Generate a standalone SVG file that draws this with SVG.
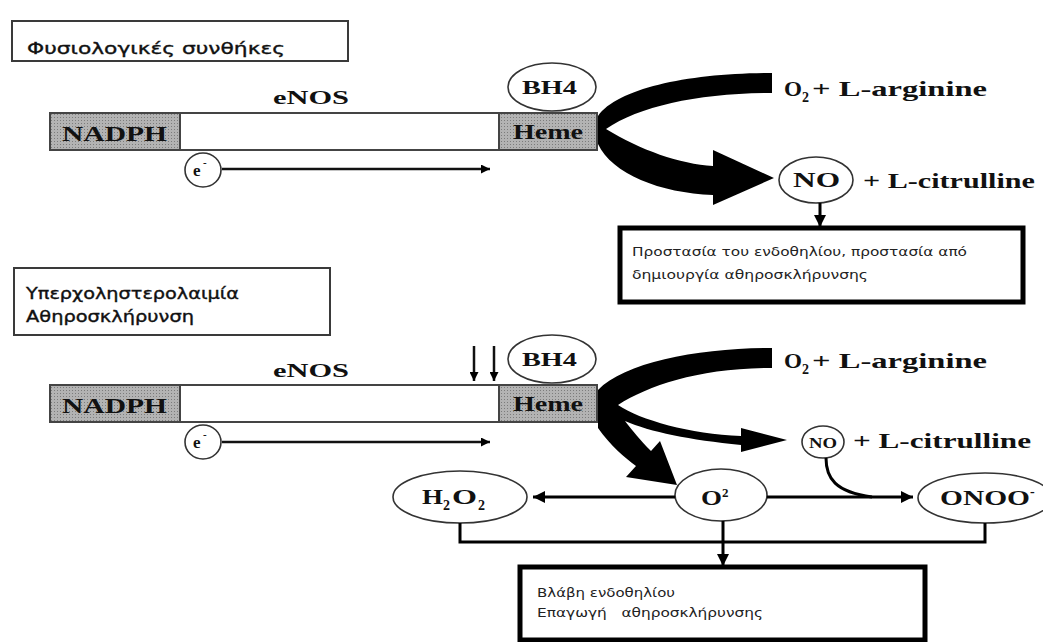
<svg xmlns="http://www.w3.org/2000/svg" width="1043" height="642" viewBox="0 0 1043 642">
<style>
.tbox{fill:#fff;stroke:#3a3a3a;stroke-width:2}
.rbox{fill:#fff;stroke:#000;stroke-width:5}
.bar{fill:#fff;stroke:#444;stroke-width:2}
.gray{fill:url(#dots);stroke:#444;stroke-width:2}
.ell{fill:#fff;stroke:#333;stroke-width:1.6}
.ser{font-family:"Liberation Serif","DejaVu Serif",serif;font-weight:bold;fill:#111}
.gr{font-family:"DejaVu Sans","Noto Sans",sans-serif;fill:#222}
.grb{font-family:"DejaVu Sans","Noto Sans",sans-serif;fill:#111;stroke:#111;stroke-width:0.35}
.ln{fill:none;stroke:#111;stroke-width:2.5}
.lnb{fill:none;stroke:#000;stroke-width:3}
.band{fill:#000}
</style>
<defs>
<pattern id="dots" width="3" height="3" patternUnits="userSpaceOnUse"><rect width="3" height="3" fill="#b3b3b3"/><rect width="1" height="1" fill="#7c7c7c"/></pattern>
<marker id="ah" viewBox="0 0 10 10" refX="10" refY="5" markerWidth="14" markerHeight="12" markerUnits="userSpaceOnUse" orient="auto"><path d="M0,0 L10,5 L0,10 z" fill="#000"/></marker>
<marker id="ahs" viewBox="0 0 10 10" refX="10" refY="5" markerWidth="11" markerHeight="9" markerUnits="userSpaceOnUse" orient="auto"><path d="M0,0 L10,5 L0,10 z" fill="#000"/></marker>
</defs>
<rect width="1043" height="642" fill="#fff"/>

<!-- ===== Top section ===== -->
<g id="title-normal">
<rect x="12" y="21" width="336" height="40" class="tbox"/>
<text x="27" y="54" class="grb" font-size="16" textLength="258" lengthAdjust="spacingAndGlyphs">Φυσιολογικές συνθήκες</text>
</g>
<g id="enos-label-1"><text x="273" y="104" class="ser" font-size="19" textLength="76" lengthAdjust="spacingAndGlyphs">eNOS</text></g>
<g id="enos-bar-1">
<rect x="50" y="113" width="547" height="37" class="bar"/>
<rect x="50" y="113" width="130" height="37" class="gray"/>
<rect x="499" y="113" width="98" height="37" class="gray"/>
<text x="62" y="141" class="ser" font-size="22" textLength="105" lengthAdjust="spacingAndGlyphs">NADPH</text>
<text x="513" y="139" class="ser" font-size="20" textLength="70" lengthAdjust="spacingAndGlyphs">Heme</text>
</g>
<g id="bh4-1">
<ellipse cx="552" cy="87" rx="44" ry="24" class="ell"/>
<text x="522" y="94" class="ser" font-size="19" textLength="55" lengthAdjust="spacingAndGlyphs">BH4</text>
</g>
<g id="electron-1">
<ellipse cx="203" cy="170" rx="18" ry="17" class="ell"/>
<text x="193" y="176" class="ser" font-size="17">e</text>
<text x="203" y="166" class="ser" font-size="11">-</text>
</g>
<g id="substrate-1">
<text x="784" y="96" class="ser" font-size="22" textLength="18" lengthAdjust="spacingAndGlyphs">O</text>
<text x="802" y="102" class="ser" font-size="14">2</text>
<text x="812" y="96" class="ser" font-size="21" textLength="175" lengthAdjust="spacingAndGlyphs">+ L-arginine</text>
</g>
<g id="no-1">
<ellipse cx="816" cy="180" rx="37" ry="23" class="ell"/>
<text x="793" y="187" class="ser" font-size="21" textLength="47" lengthAdjust="spacingAndGlyphs">NO</text>
<text x="863" y="188" class="ser" font-size="21" textLength="172" lengthAdjust="spacingAndGlyphs">+ L-citrulline</text>
</g>
<g id="protect-box">
<rect x="620" y="228" width="403" height="74" class="rbox"/>
<text x="632" y="256" class="gr" font-size="13" textLength="335" lengthAdjust="spacingAndGlyphs">Προστασία του ενδοθηλίου, προστασία από</text>
<text x="632" y="279" class="gr" font-size="13" textLength="236" lengthAdjust="spacingAndGlyphs">δημιουργία αθηροσκλήρυνσης</text>
</g>

<!-- ===== Bottom section ===== -->
<g id="title-hyper">
<rect x="14" y="268" width="316" height="67" class="tbox"/>
<text x="26" y="299" class="grb" font-size="15" textLength="213" lengthAdjust="spacingAndGlyphs">Υπερχοληστερολαιμία</text>
<text x="26" y="322" class="grb" font-size="15" textLength="168" lengthAdjust="spacingAndGlyphs">Αθηροσκλήρυνση</text>
</g>
<g id="enos-label-2"><text x="273" y="377" class="ser" font-size="19" textLength="76" lengthAdjust="spacingAndGlyphs">eNOS</text></g>
<g id="enos-bar-2">
<rect x="50" y="385" width="547" height="37" class="bar"/>
<rect x="50" y="385" width="130" height="37" class="gray"/>
<rect x="499" y="385" width="98" height="37" class="gray"/>
<text x="62" y="413" class="ser" font-size="22" textLength="105" lengthAdjust="spacingAndGlyphs">NADPH</text>
<text x="513" y="411" class="ser" font-size="20" textLength="70" lengthAdjust="spacingAndGlyphs">Heme</text>
</g>
<g id="bh4-2">
<ellipse cx="552" cy="359" rx="44" ry="24" class="ell"/>
<text x="522" y="366" class="ser" font-size="19" textLength="55" lengthAdjust="spacingAndGlyphs">BH4</text>
</g>
<g id="electron-2">
<ellipse cx="203" cy="442" rx="18" ry="17" class="ell"/>
<text x="193" y="448" class="ser" font-size="17">e</text>
<text x="203" y="438" class="ser" font-size="11">-</text>
</g>
<g id="substrate-2">
<text x="784" y="368" class="ser" font-size="22" textLength="18" lengthAdjust="spacingAndGlyphs">O</text>
<text x="802" y="374" class="ser" font-size="14">2</text>
<text x="812" y="368" class="ser" font-size="21" textLength="175" lengthAdjust="spacingAndGlyphs">+ L-arginine</text>
</g>
<g id="no-2">
<ellipse cx="823" cy="442" rx="21" ry="16" class="ell"/>
<text x="809" y="448" class="ser" font-size="15" textLength="28" lengthAdjust="spacingAndGlyphs">NO</text>
<text x="853" y="448" class="ser" font-size="21" textLength="178" lengthAdjust="spacingAndGlyphs">+ L-citrulline</text>
</g>
<g id="h2o2">
<ellipse cx="460" cy="497" rx="67" ry="26" class="ell"/>
<text x="422" y="504" class="ser" font-size="21" textLength="21" lengthAdjust="spacingAndGlyphs">H</text>
<text x="443" y="510" class="ser" font-size="14">2</text>
<text x="452" y="504" class="ser" font-size="21" textLength="25" lengthAdjust="spacingAndGlyphs">O</text>
<text x="478" y="510" class="ser" font-size="14">2</text>
</g>
<g id="superoxide">
<ellipse cx="721" cy="495" rx="46" ry="26" class="ell"/>
<text x="701" y="505" class="ser" font-size="21" textLength="21" lengthAdjust="spacingAndGlyphs">O</text>
<text x="722" y="497" class="ser" font-size="13">2</text>
</g>
<g id="peroxynitrite">
<ellipse cx="985" cy="498" rx="67" ry="25" class="ell"/>
<text x="940" y="505" class="ser" font-size="21" textLength="90" lengthAdjust="spacingAndGlyphs">ONOO</text>
<text x="1030" y="496" class="ser" font-size="14">-</text>
</g>
<g id="damage-box">
<rect x="520" y="567" width="405" height="73" class="rbox"/>
<text x="537" y="597" class="gr" font-size="13" textLength="138" lengthAdjust="spacingAndGlyphs">Βλάβη ενδοθηλίου</text>
<text x="537" y="617" class="gr" font-size="13" textLength="226" lengthAdjust="spacingAndGlyphs" xml:space="preserve">Επαγωγή   αθηροσκλήρυνσης</text>
</g>

<!-- ===== Connectors ===== -->
<g id="connectors">
<line x1="222" y1="169" x2="490" y2="169" class="ln" marker-end="url(#ahs)"/>
<line x1="222" y1="442" x2="490" y2="442" class="ln" marker-end="url(#ahs)"/>
<path class="band" d="M772,73 C690,73 618,88 598,116 L598,144 C612,174 660,193 713,195 L713,205 L774,178 L713,150 L713,166 C680,164 640,150 606,129 C640,106 700,93 772,93 Z"/>
<line x1="820" y1="203" x2="820" y2="227" class="lnb" marker-end="url(#ah)"/>
<line x1="474" y1="346" x2="474" y2="381" class="ln" marker-end="url(#ahs)"/>
<line x1="494" y1="346" x2="494" y2="381" class="ln" marker-end="url(#ahs)"/>
<path class="band" d="M772,348 C700,348 625,362 598,390 L598,428 C610,445 625,458 636,466 L626,477 L677,485 L660,441 L651,451 C640,440 632,430 625,421 C650,432 690,440 741,445 L741,452 L787,440 L741,428 L741,436 C690,434 640,420 618,405 C650,385 700,368 772,368 Z"/>
<line x1="675" y1="497" x2="533" y2="497" class="lnb" marker-end="url(#ah)"/>
<line x1="767" y1="497" x2="913" y2="497" class="lnb" marker-end="url(#ah)"/>
<path d="M826,458 C826,478 835,492 872,497" class="lnb"/>
<polyline points="460,523 460,542 985,542 985,523" class="lnb"/>
<line x1="723" y1="521" x2="723" y2="566" class="lnb" marker-end="url(#ah)"/>
</g>
</svg>
